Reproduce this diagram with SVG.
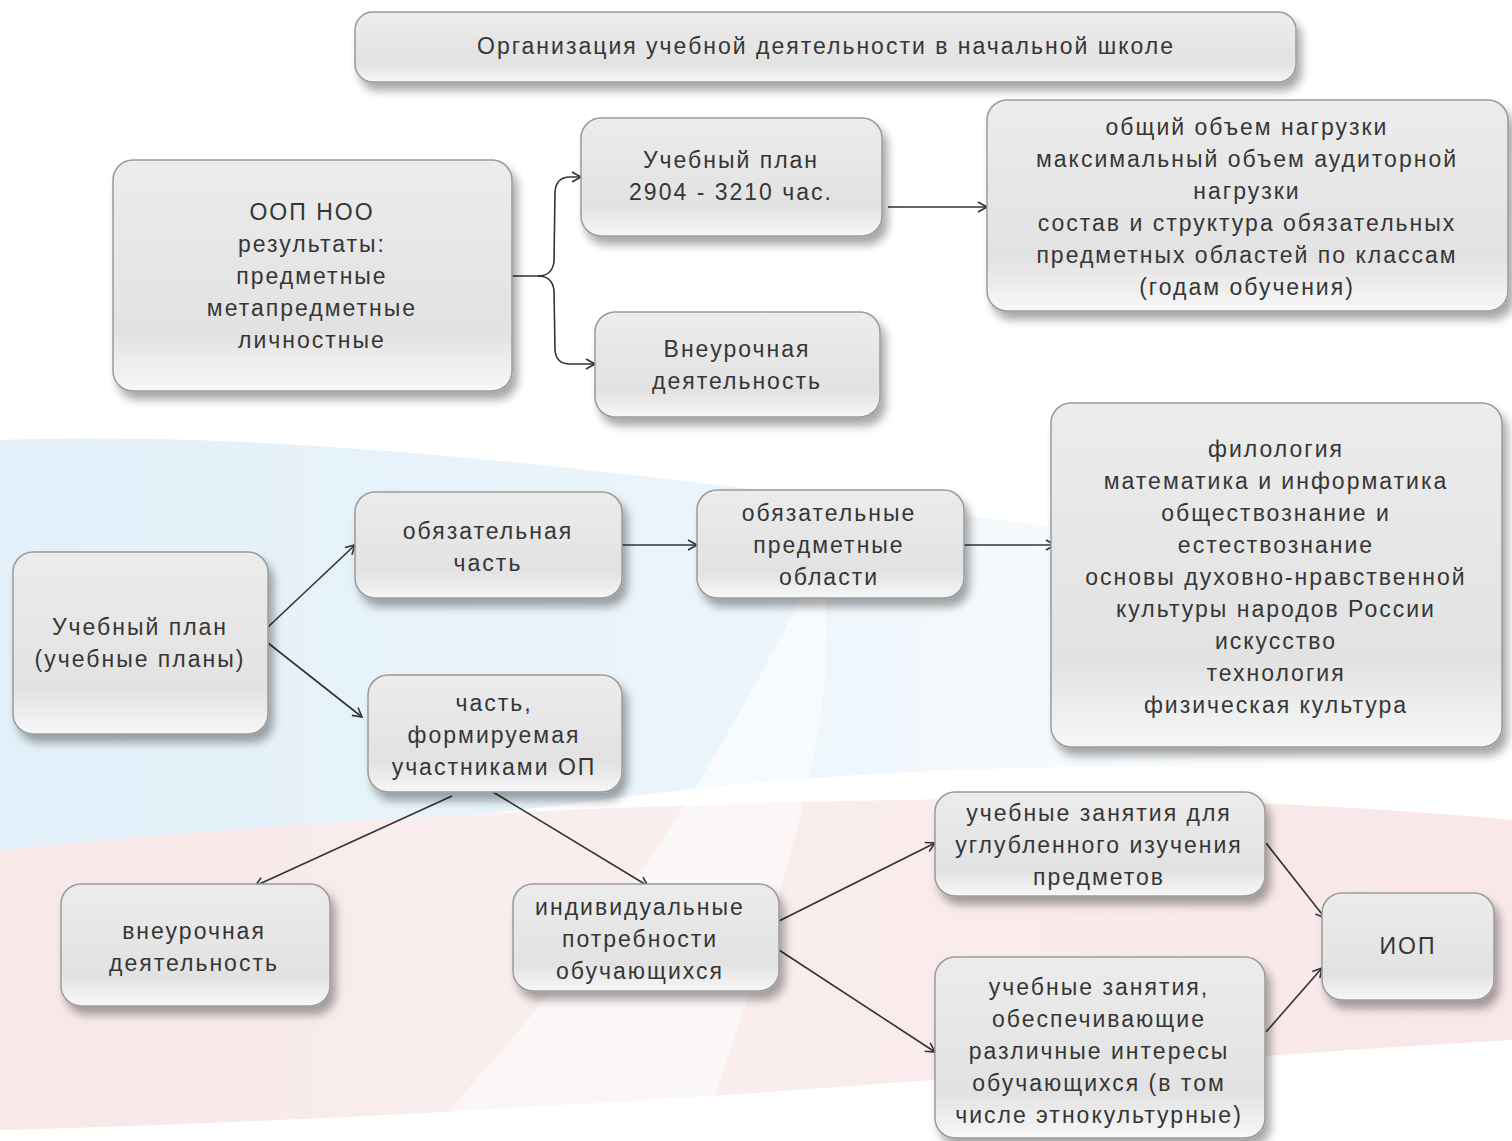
<svg xmlns="http://www.w3.org/2000/svg" width="1512" height="1141" viewBox="0 0 1512 1141">
<defs>
<linearGradient id="boxg" x1="0" y1="0" x2="0" y2="1">
<stop offset="0" stop-color="#ececec"/>
<stop offset="0.75" stop-color="#e2e2e2"/>
<stop offset="1" stop-color="#f7f7f7"/>
</linearGradient>
<linearGradient id="blueg" x1="0" y1="0" x2="1" y2="0">
<stop offset="0" stop-color="#e3f0f9"/>
<stop offset="0.45" stop-color="#eaf4fb"/>
<stop offset="0.7" stop-color="#f6fafd"/>
<stop offset="1" stop-color="#ffffff" stop-opacity="0"/>
</linearGradient>
<linearGradient id="pinkg" x1="0" y1="0" x2="1" y2="0">
<stop offset="0" stop-color="#f8e8e8"/>
<stop offset="0.4" stop-color="#f9eeee"/>
<stop offset="1" stop-color="#fae7e8"/>
</linearGradient>
<filter id="sh" x="-10%" y="-10%" width="125%" height="135%">
<feGaussianBlur in="SourceAlpha" stdDeviation="5"/>
<feOffset dx="5" dy="8" result="b"/>
<feComponentTransfer><feFuncA type="linear" slope="0.35"/></feComponentTransfer>
<feMerge><feMergeNode/><feMergeNode in="SourceGraphic"/></feMerge>
</filter>
<marker id="ar" markerWidth="12" markerHeight="12" refX="10" refY="6" orient="auto" markerUnits="userSpaceOnUse">
<path d="M1,1 L10,6 L1,11" fill="none" stroke="#333" stroke-width="1.6"/>
</marker>
</defs>
<style>
.box{fill:url(#boxg);stroke:#9a9a9a;stroke-width:1.5;filter:url(#sh)}
.t{font-family:"Liberation Sans",Arial,sans-serif;font-size:23px;fill:#363636;text-anchor:middle;letter-spacing:2px}
.c{fill:none;stroke:#333;stroke-width:1.6}
</style>
<rect width="1512" height="1141" fill="#ffffff"/>
<path d="M0,440 C300,430 600,470 1000,520 C1200,545 1380,560 1512,565 L1512,780 C1200,760 900,760 600,800 C400,825 200,845 0,860 Z" fill="url(#blueg)"/>
<path d="M0,850 C300,820 600,805 900,800 C1150,795 1350,805 1512,820 L1512,1040 C1250,1055 950,1080 650,1100 C400,1115 200,1125 0,1130 Z" fill="url(#pinkg)"/>
<path d="M420,1141 C600,950 700,800 820,560 C850,700 780,900 700,1141 Z" fill="#ffffff" opacity="0.55"/>

<g id="connectors">
<path class="c" d="M512,276 L538,276 Q552,276 554,262 L555,192 Q556,177 570,177 L581,177" marker-end="url(#ar)"/>
<path class="c" d="M538,276 Q552,276 554,290 L555,350 Q556,364 570,364 L595,364" marker-end="url(#ar)"/>
<line class="c" x1="888" y1="207" x2="987" y2="207" marker-end="url(#ar)"/>
<line class="c" x1="268" y1="627" x2="355" y2="545" marker-end="url(#ar)"/>
<line class="c" x1="268" y1="643" x2="362" y2="717" marker-end="url(#ar)"/>
<line class="c" x1="622" y1="545" x2="697" y2="545" marker-end="url(#ar)"/>
<line class="c" x1="964" y1="545" x2="1055" y2="545" marker-end="url(#ar)"/>
<line class="c" x1="452" y1="796" x2="255" y2="886" marker-end="url(#ar)"/>
<line class="c" x1="493" y1="792" x2="648" y2="886" marker-end="url(#ar)"/>
<line class="c" x1="779" y1="921" x2="935" y2="843" marker-end="url(#ar)"/>
<line class="c" x1="779" y1="950" x2="935" y2="1052" marker-end="url(#ar)"/>
<line class="c" x1="1266" y1="843" x2="1325" y2="918" marker-end="url(#ar)"/>
<line class="c" x1="1266" y1="1032" x2="1322" y2="968" marker-end="url(#ar)"/>
</g>

<g id="n-title"><rect class="box" x="355" y="12" width="941" height="70" rx="18"/>
<text class="t" x="826" y="54">Организация учебной деятельности в начальной школе</text></g>

<g id="n-oop"><rect class="box" x="113" y="160" width="399" height="231" rx="20"/>
<text class="t" x="312" y="220">ООП НОО</text>
<text class="t" x="312" y="252">результаты:</text>
<text class="t" x="312" y="284">предметные</text>
<text class="t" x="312" y="316">метапредметные</text>
<text class="t" x="312" y="348">личностные</text></g>

<g id="n-plan1"><rect class="box" x="581" y="118" width="301" height="118" rx="20"/>
<text class="t" x="731" y="168">Учебный план</text>
<text class="t" x="731" y="200">2904 - 3210 час.</text></g>

<g id="n-vneur1"><rect class="box" x="595" y="312" width="285" height="105" rx="20"/>
<text class="t" x="737" y="357">Внеурочная</text>
<text class="t" x="737" y="389">деятельность</text></g>

<g id="n-obshiy"><rect class="box" x="987" y="100" width="521" height="211" rx="20"/>
<text class="t" x="1247" y="135">общий объем нагрузки</text>
<text class="t" x="1247" y="167">максимальный объем аудиторной</text>
<text class="t" x="1247" y="199">нагрузки</text>
<text class="t" x="1247" y="231">состав и структура обязательных</text>
<text class="t" x="1247" y="263">предметных областей по классам</text>
<text class="t" x="1247" y="295">(годам обучения)</text></g>

<g id="n-plan2"><rect class="box" x="13" y="552" width="255" height="182" rx="20"/>
<text class="t" x="140" y="635">Учебный план</text>
<text class="t" x="140" y="667">(учебные планы)</text></g>

<g id="n-obyaz"><rect class="box" x="355" y="492" width="267" height="106" rx="20"/>
<text class="t" x="488" y="539">обязательная</text>
<text class="t" x="488" y="571">часть</text></g>

<g id="n-oblasti"><rect class="box" x="697" y="490" width="267" height="108" rx="20"/>
<text class="t" x="829" y="521">обязательные</text>
<text class="t" x="829" y="553">предметные</text>
<text class="t" x="829" y="585">области</text></g>

<g id="n-filologiya"><rect class="box" x="1051" y="403" width="451" height="344" rx="20"/>
<text class="t" x="1276" y="457">филология</text>
<text class="t" x="1276" y="489">математика и информатика</text>
<text class="t" x="1276" y="521">обществознание и</text>
<text class="t" x="1276" y="553">естествознание</text>
<text class="t" x="1276" y="585">основы духовно-нравственной</text>
<text class="t" x="1276" y="617">культуры народов России</text>
<text class="t" x="1276" y="649">искусство</text>
<text class="t" x="1276" y="681">технология</text>
<text class="t" x="1276" y="713">физическая культура</text></g>

<g id="n-chast"><rect class="box" x="368" y="675" width="254" height="117" rx="20"/>
<text class="t" x="494" y="711">часть,</text>
<text class="t" x="494" y="743">формируемая</text>
<text class="t" x="494" y="775">участниками ОП</text></g>

<g id="n-vneur2"><rect class="box" x="61" y="884" width="269" height="122" rx="20"/>
<text class="t" x="194" y="939">внеурочная</text>
<text class="t" x="194" y="971">деятельность</text></g>

<g id="n-indiv"><rect class="box" x="513" y="884" width="266" height="107" rx="20"/>
<text class="t" x="640" y="915">индивидуальные</text>
<text class="t" x="640" y="947">потребности</text>
<text class="t" x="640" y="979">обучающихся</text></g>

<g id="n-uglub"><rect class="box" x="935" y="792" width="330" height="104" rx="20"/>
<text class="t" x="1099" y="821">учебные занятия для</text>
<text class="t" x="1099" y="853">углубленного изучения</text>
<text class="t" x="1099" y="885">предметов</text></g>

<g id="n-interesy"><rect class="box" x="935" y="957" width="330" height="181" rx="20"/>
<text class="t" x="1099" y="995">учебные занятия,</text>
<text class="t" x="1099" y="1027">обеспечивающие</text>
<text class="t" x="1099" y="1059">различные интересы</text>
<text class="t" x="1099" y="1091">обучающихся (в том</text>
<text class="t" x="1099" y="1123">числе этнокультурные)</text></g>

<g id="n-iop"><rect class="box" x="1322" y="893" width="172" height="107" rx="20"/>
<text class="t" x="1408" y="954">ИОП</text></g>
</svg>
